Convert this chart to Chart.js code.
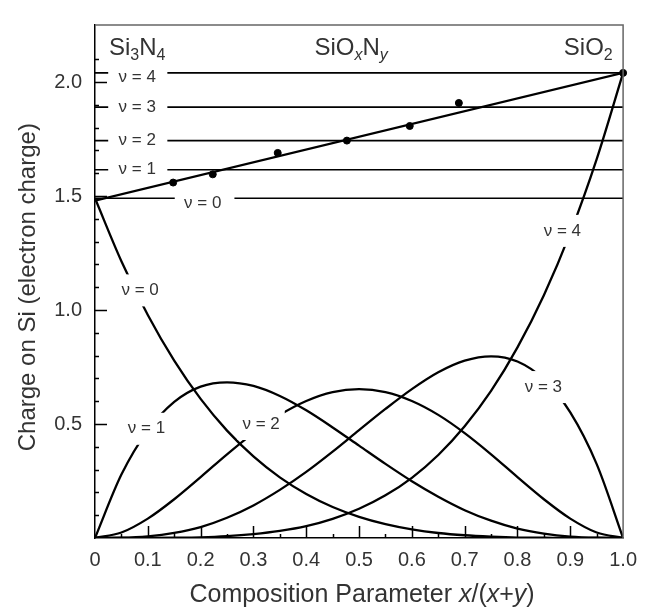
<!DOCTYPE html>
<html>
<head>
<meta charset="utf-8">
<script src="https://cdn.jsdelivr.net/npm/chart.js@4.4.1/dist/chart.umd.min.js"></script>
<style>
  html, body { margin: 0; padding: 0; background: #fff; }
  #wrap { width: 647px; height: 609px; position: relative; }
</style>
</head>
<body>
<div id="wrap"><canvas id="chart"></canvas></div>
<script>
// composition parameter x/(x+y), sampled every 0.05
const xs = [0, 0.05, 0.1, 0.15, 0.2, 0.25, 0.3, 0.35, 0.4, 0.45, 0.5,
            0.55, 0.6, 0.65, 0.7, 0.75, 0.8, 0.85, 0.9, 0.95, 1.0];

// weighted contribution curves (nu = 0..4)
const nu0 = [1.49, 1.214, 0.978, 0.778, 0.610, 0.471, 0.358, 0.266, 0.193, 0.136, 0.093,
             0.061, 0.038, 0.022, 0.012, 0.006, 0.002, 0.001, 0, 0, 0];
const nu1 = [0, 0.278, 0.472, 0.597, 0.664, 0.683, 0.667, 0.623, 0.560, 0.485, 0.405,
             0.325, 0.249, 0.181, 0.122, 0.076, 0.041, 0.019, 0.006, 0.001, 0];
const nu2 = [0, 0.024, 0.085, 0.170, 0.267, 0.367, 0.460, 0.540, 0.601, 0.640, 0.653,
             0.640, 0.601, 0.540, 0.460, 0.367, 0.267, 0.170, 0.085, 0.024, 0];
const nu3 = [0, 0.001, 0.007, 0.022, 0.048, 0.089, 0.143, 0.211, 0.290, 0.379, 0.473,
             0.566, 0.653, 0.727, 0.778, 0.797, 0.774, 0.696, 0.551, 0.324, 0];
const nu4 = [0, 0, 0, 0.001, 0.003, 0.008, 0.017, 0.031, 0.052, 0.084, 0.128,
             0.187, 0.264, 0.364, 0.490, 0.645, 0.836, 1.065, 1.338, 1.662, 2.04];

// charge on Si for each bonding type nu = 0..4 (horizontal lines)
const levels = [1.49, 1.615, 1.743, 1.89, 2.04];

// average charge line and measured points
const avgX = [0, 1.0];
const avgY = [1.48, 2.04];
const measX = [0.148, 0.223, 0.346, 0.477, 0.596, 0.689, 1.0];
const measY = [1.559, 1.595, 1.689, 1.743, 1.807, 1.908, 2.04];

const yLabelled = [0.5, 1.0, 1.5, 2.0];

const FONT = "'Liberation Sans', Arial, sans-serif";
const TXT = '#333';

function pts(xv, yv) {
    return xv.map((x, i) => ({ x: x, y: yv[i] }));
}

// horizontal level line with a gap left for its label
function levelLine(y, gapA, gapB) {
    return [{ x: 0, y: y }, { x: gapA, y: y }, { x: (gapA + gapB) / 2, y: null },
            { x: gapB, y: y }, { x: 1.0, y: y }];
}

const curveStyle = {
    borderColor: '#000', borderWidth: 2.3, pointRadius: 0,
    cubicInterpolationMode: 'monotone', fill: false
};

const datasets = [];
[nu0, nu1, nu2, nu3, nu4].forEach((c, i) => {
    datasets.push(Object.assign({ label: 'nu=' + i, data: pts(xs, c) }, curveStyle));
});
levels.forEach((lv, i) => {
    const gap = i === 0 ? [0.151, 0.264] : [0.025, 0.137];
    datasets.push({
        label: 'level ' + i, data: levelLine(lv, gap[0], gap[1]),
        borderColor: '#000', borderWidth: 1.6, pointRadius: 0, spanGaps: false
    });
});
datasets.push({
    label: 'average', data: pts(avgX, avgY),
    borderColor: '#000', borderWidth: 2.2, pointRadius: 0
});
datasets.push({
    label: 'measured', data: pts(measX, measY), showLine: false,
    pointRadius: 3.5, pointBackgroundColor: '#000', pointBorderColor: '#000', clip: false
});

// annotation labels (white box hides the curve under the text)
const nuLabels = [
    { t: 'ν = 0', x: 0.0855, y: 1.086, box: true },
    { t: 'ν = 1', x: 0.0975, y: 0.479, box: true },
    { t: 'ν = 2', x: 0.3145, y: 0.50, box: true },
    { t: 'ν = 3', x: 0.849, y: 0.662, box: true },
    { t: 'ν = 4', x: 0.885, y: 1.347, box: true },
    { t: 'ν = 4', x: 0.08, y: 2.02 },
    { t: 'ν = 3', x: 0.08, y: 1.89 },
    { t: 'ν = 2', x: 0.08, y: 1.743 },
    { t: 'ν = 1', x: 0.08, y: 1.615 },
    { t: 'ν = 0', x: 0.204, y: 1.470 }
];

function isMult(v, step) {
    return Math.abs(v / step - Math.round(v / step)) < 1e-6;
}

// draw text made of runs (normal / italic / subscript), centred on cx
function drawRuns(ctx, runs, cx, base, size) {
    const fontOf = r => (r.it ? 'italic ' : '') + (r.sub ? Math.round(size * 0.68) : size) + 'px ' + FONT;
    let w = 0;
    runs.forEach(r => { ctx.font = fontOf(r); w += ctx.measureText(r.t).width; });
    let x = cx - w / 2;
    ctx.textAlign = 'left';
    ctx.textBaseline = 'alphabetic';
    runs.forEach(r => {
        ctx.font = fontOf(r);
        ctx.fillText(r.t, x, base + (r.sub ? size * 0.22 : 0));
        x += ctx.measureText(r.t).width;
    });
}

const decorPlugin = {
    id: 'decor',
    afterDatasetsDraw(chart) {
        const { ctx, scales: { x, y } } = chart;
        ctx.save();
        ctx.font = '17px ' + FONT;
        ctx.textAlign = 'center';
        ctx.textBaseline = 'middle';
        nuLabels.forEach(l => {
            const px = x.getPixelForValue(l.x), py = y.getPixelForValue(l.y);
            const w = ctx.measureText(l.t).width;
            if (l.box) {
                ctx.fillStyle = '#fff';
                ctx.fillRect(px - w / 2 - 5, py - 16, w + 10, 32);
            }
            ctx.fillStyle = TXT;
            ctx.fillText(l.t, px, py);
        });
        ctx.restore();
    },
    afterDraw(chart) {
        const { ctx, chartArea: a, scales: { x, y } } = chart;
        ctx.save();
        // top / right frame
        ctx.strokeStyle = '#666';
        ctx.lineWidth = 1.5;
        ctx.beginPath();
        ctx.moveTo(a.left, a.top);
        ctx.lineTo(a.right, a.top);
        ctx.lineTo(a.right, a.bottom);
        ctx.stroke();
        // inward tick marks
        ctx.strokeStyle = '#000';
        ctx.lineWidth = 1.5;
        ctx.beginPath();
        x.ticks.forEach(t => {
            if (t.value <= 0 || t.value >= 1 || !isMult(t.value, 0.05)) return;
            const px = Math.round(x.getPixelForValue(t.value)) + 0.5;
            const len = isMult(t.value, 0.1) ? 12 : 4;
            ctx.moveTo(px, a.bottom);
            ctx.lineTo(px, a.bottom - len);
        });
        y.ticks.forEach(t => {
            if (t.value <= 0 || !isMult(t.value, 0.1)) return;
            const py = Math.round(y.getPixelForValue(t.value)) + 0.5;
            const len = isMult(t.value, 0.5) ? 12 : 4;
            ctx.moveTo(a.left, py);
            ctx.lineTo(a.left + len, py);
        });
        ctx.stroke();

        // headers
        ctx.fillStyle = TXT;
        const hb = a.top + 30;
        drawRuns(ctx, [{ t: 'Si' }, { t: '3', sub: true }, { t: 'N' }, { t: '4', sub: true }],
                 x.getPixelForValue(0.08), hb, 24);
        drawRuns(ctx, [{ t: 'SiO' }, { t: 'x', sub: true, it: true }, { t: 'N' }, { t: 'y', sub: true, it: true }],
                 x.getPixelForValue(0.485), hb, 24);
        drawRuns(ctx, [{ t: 'SiO' }, { t: '2', sub: true }],
                 x.getPixelForValue(0.934), hb, 24);

        // x axis title
        drawRuns(ctx, [{ t: 'Composition Parameter ' }, { t: 'x', it: true }, { t: '/(' },
                       { t: 'x', it: true }, { t: '+' }, { t: 'y', it: true }, { t: ')' }],
                 (a.left + a.right) / 2 + 3, 602, 25);

        // y axis title
        ctx.translate(27, y.getPixelForValue(1.10));
        ctx.rotate(-Math.PI / 2);
        drawRuns(ctx, [{ t: 'Charge on Si (electron charge)' }], 0, 8, 24);
        ctx.restore();
    }
};

Chart.defaults.font.family = FONT;

new Chart(document.getElementById('chart'), {
    type: 'line',
    data: { datasets: datasets },
    options: {
        responsive: true,
        maintainAspectRatio: false,
        animation: false,
        layout: { padding: { top: 6, right: 22, left: 0, bottom: 0 } },
        plugins: { legend: { display: false }, tooltip: { enabled: false } },
        scales: {
            x: {
                type: 'linear', min: 0, max: 1,
                grid: { display: false, drawTicks: false },
                border: { display: true, color: '#000', width: 1.5 },
                ticks: {
                    stepSize: 0.05, autoSkip: false, maxRotation: 0, minRotation: 0,
                    padding: 10, color: TXT, font: { size: 20 },
                    callback: v => !isMult(v, 0.1) ? '' : (v === 0 ? '0' : v.toFixed(1))
                },
                afterFit: s => { s.height = 71; }
            },
            y: {
                type: 'linear', min: 0, max: 2.25,
                grid: { display: false, drawTicks: false },
                border: { display: true, color: '#000', width: 1.5 },
                ticks: {
                    stepSize: 0.1, autoSkip: false, padding: 13, color: TXT, font: { size: 20 },
                    callback: v => yLabelled.some(l => Math.abs(l - v) < 1e-6) ? v.toFixed(1) : ''
                },
                afterFit: s => { s.width = 95; }
            }
        }
    },
    plugins: [decorPlugin]
});
</script>
</body>
</html>
